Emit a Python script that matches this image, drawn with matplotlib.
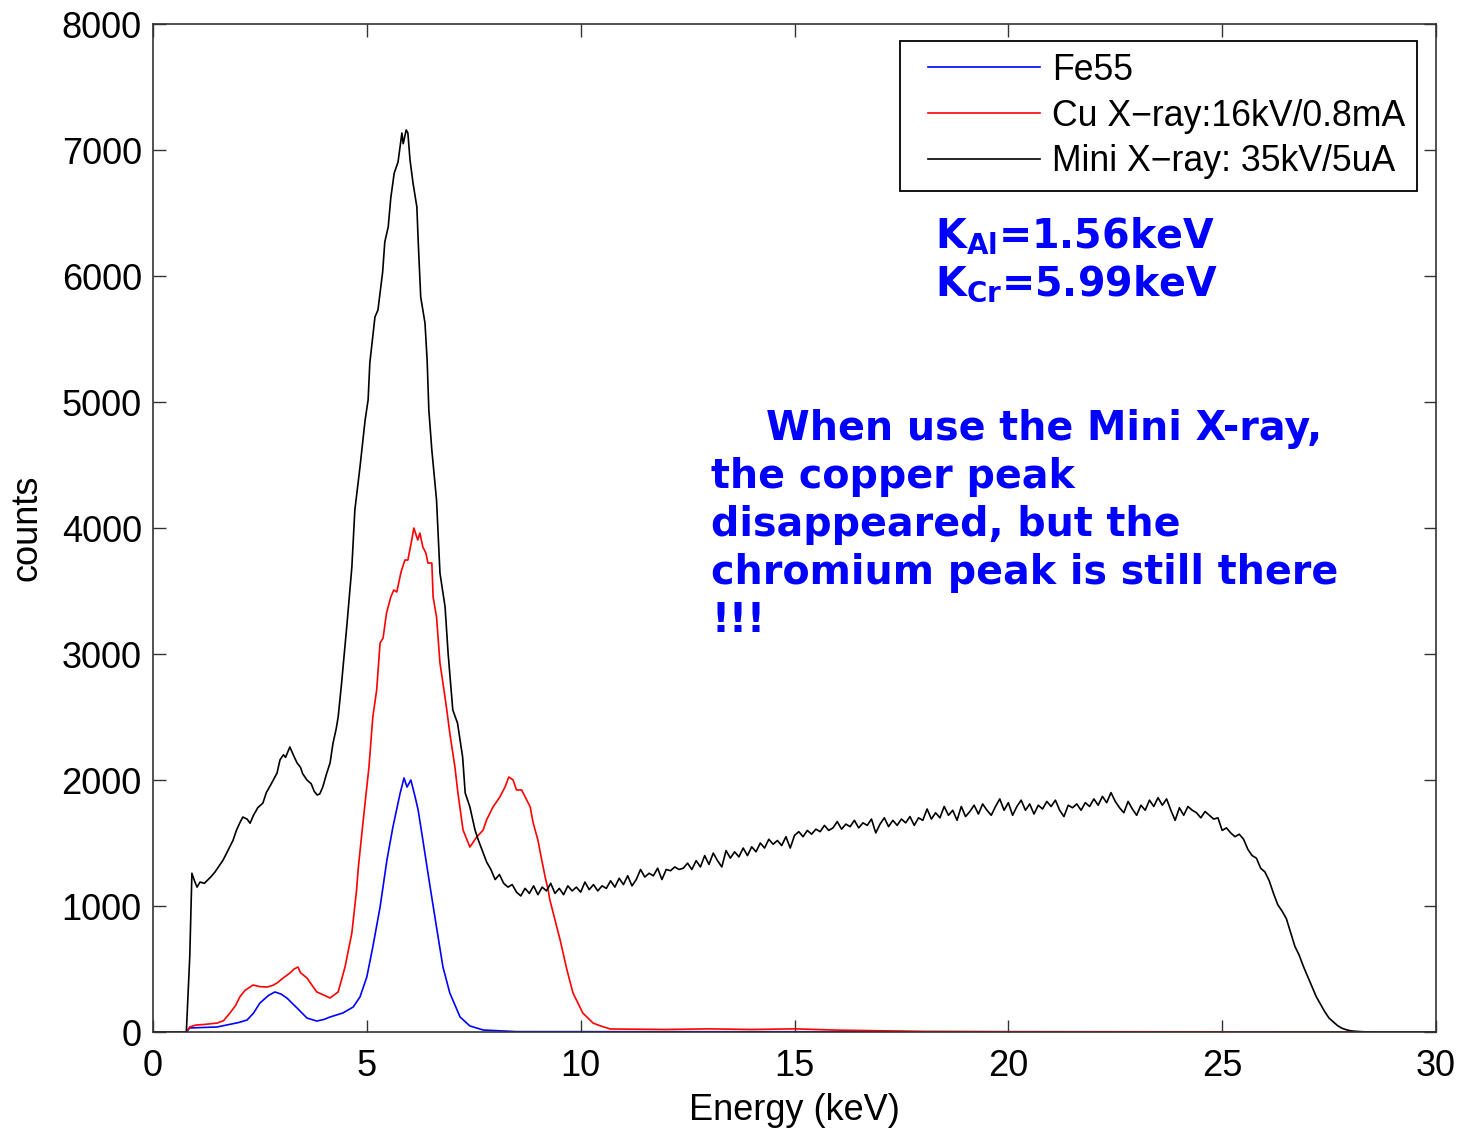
import matplotlib
matplotlib.use("Agg")
import matplotlib.pyplot as plt
import numpy as np
from matplotlib.legend_handler import HandlerLine2D
from matplotlib.lines import Line2D

# Fe55 spectrum (keV, counts)
fe_energy = [0, 0.78, 0.86, 1.5, 1.73, 2.0, 2.2, 2.35, 2.5, 2.7, 2.85, 3.0, 3.13, 3.37,
             3.6, 3.83, 4.0, 4.14, 4.44, 4.68, 4.84, 5.0, 5.14, 5.31, 5.47, 5.61, 5.78,
             5.87, 5.94, 6.03, 6.13, 6.2, 6.31, 6.48, 6.64, 6.78, 6.94, 7.18, 7.41, 7.72,
             8.5, 30]
fe_counts = [0, 0, 32, 40, 56, 75, 95, 150, 230, 290, 318, 300, 270, 190,
             111, 87, 100, 119, 151, 198, 278, 437, 675, 992, 1365, 1627, 1897,
             2016, 1944, 2000, 1865, 1762, 1524, 1151, 810, 516, 310, 119, 48, 16,
             3, 0]

# Cu X-ray tube 16kV/0.8mA
cu_energy = [0, 0.78, 0.86, 1.0, 1.2, 1.5, 1.65, 1.8, 1.93, 2.03, 2.15, 2.34, 2.5, 2.67,
             2.8, 2.9, 3.05, 3.2, 3.3, 3.39, 3.45, 3.6, 3.7, 3.83, 3.95, 4.14, 4.33,
             4.49, 4.65, 4.76, 4.80, 4.90, 5.05, 5.14, 5.23, 5.31, 5.38, 5.46, 5.56,
             5.63, 5.70, 5.80, 5.89, 5.96, 6.05, 6.10, 6.19, 6.24, 6.31, 6.38, 6.43,
             6.52, 6.55, 6.63, 6.71, 6.78, 6.87, 6.94, 7.06, 7.13, 7.25, 7.41, 7.57,
             7.72, 7.80, 7.95, 8.11, 8.23, 8.32, 8.42, 8.50, 8.62, 8.74, 8.82, 8.89,
             9.00, 9.09, 9.17, 9.24, 9.28, 9.52, 9.68, 9.82, 10.05, 10.29, 10.45, 10.69,
             12, 13, 14, 15, 16, 17, 18, 20, 30]
cu_counts = [0, 0, 40, 55, 60, 71, 90, 151, 210, 278, 330, 373, 360, 357,
             370, 389, 430, 468, 500, 516, 470, 429, 380, 318, 300, 270, 318,
             516, 786, 1127, 1300, 1630, 2103, 2500, 2714, 3087, 3127, 3325, 3452,
             3508, 3492, 3651, 3746, 3746, 3905, 4000, 3905, 3960, 3849, 3802, 3722,
             3722, 3452, 3294, 2929, 2770, 2556, 2373, 2103, 1897, 1603, 1468, 1548,
             1603, 1683, 1786, 1865, 1944, 2024, 2000, 1921, 1921, 1841, 1786, 1659,
             1524, 1365, 1230, 1127, 1048, 730, 492, 310, 151, 71, 50, 24,
             20, 25, 20, 25, 15, 10, 5, 3, 0]

# Mini X-ray 35kV/5uA, low-energy part
mini_energy_low = [0, 0.78, 0.86, 0.91, 0.97, 1.03, 1.1, 1.2, 1.29, 1.35, 1.45, 1.55, 1.64,
                   1.75, 1.87, 1.95, 2.03, 2.1, 2.2, 2.27, 2.35, 2.45, 2.57, 2.65, 2.75,
                   2.9, 2.97, 3.05, 3.1, 3.2, 3.28, 3.37, 3.45, 3.5, 3.6, 3.7, 3.77, 3.84,
                   3.9, 3.97, 4.05, 4.14, 4.21, 4.28, 4.33, 4.41, 4.53, 4.65, 4.72, 4.84,
                   4.96, 5.03, 5.07, 5.19, 5.26, 5.37, 5.42, 5.50, 5.56, 5.64, 5.73, 5.82,
                   5.85, 5.92, 5.96, 6.01, 6.08, 6.17, 6.20, 6.26, 6.36, 6.41, 6.45, 6.52,
                   6.63, 6.71, 6.83, 6.90, 7.01, 7.12, 7.24, 7.30, 7.41, 7.53]
mini_counts_low = [0, 0, 600, 1260, 1200, 1150, 1190, 1180, 1210, 1230, 1270, 1320, 1365,
                   1440, 1520, 1600, 1660, 1706, 1690, 1657, 1720, 1780, 1817, 1900, 1960,
                   2055, 2160, 2200, 2180, 2262, 2200, 2135, 2100, 2050, 2000, 1970, 1910, 1881,
                   1890, 1944, 2040, 2135, 2294, 2400, 2500, 2770, 3214, 3690, 4143, 4484,
                   4857, 5016, 5310, 5675, 5730, 6032, 6270, 6389, 6619, 6817, 6905, 7135,
                   7050, 7159, 7135, 6921, 6738, 6548, 6286, 5833, 5627, 5333, 4937, 4619,
                   4222, 3643, 3373, 3008, 2556, 2452, 2183, 1897, 1786, 1603]

# Mini X-ray, 7.6 - 28.5 keV in 0.1 keV channels
mini_counts_high = [
    1530, 1440, 1350, 1290, 1210, 1250, 1180, 1150, 1170, 1110,
    1080, 1140, 1100, 1160, 1090, 1150, 1120, 1180, 1100, 1140,
    1090, 1160, 1120, 1150, 1110, 1190, 1130, 1170, 1120, 1160,
    1140, 1200, 1150, 1220, 1170, 1240, 1160, 1210, 1290, 1230,
    1260, 1240, 1300, 1210, 1290, 1280, 1310, 1290, 1300, 1340,
    1290, 1360, 1310, 1400, 1330, 1420, 1360, 1310, 1440, 1380,
    1430, 1390, 1460, 1400, 1470, 1430, 1500, 1460, 1530, 1490,
    1520, 1480, 1550, 1460, 1560, 1590, 1550, 1600, 1570, 1610,
    1590, 1640, 1600, 1620, 1670, 1610, 1650, 1630, 1680, 1620,
    1660, 1640, 1690, 1580, 1650, 1700, 1630, 1680, 1640, 1690,
    1660, 1710, 1640, 1700, 1680, 1770, 1690, 1740, 1700, 1790,
    1720, 1760, 1680, 1790, 1710, 1750, 1800, 1730, 1810, 1760,
    1720, 1790, 1850, 1760, 1820, 1720, 1790, 1840, 1760, 1810,
    1730, 1800, 1770, 1830, 1790, 1840, 1760, 1710, 1800, 1780,
    1810, 1760, 1820, 1790, 1850, 1800, 1870, 1820, 1900, 1830,
    1780, 1740, 1830, 1770, 1720, 1800, 1760, 1840, 1790, 1860,
    1800, 1850, 1760, 1680, 1780, 1720, 1790, 1760, 1740, 1700,
    1750, 1720, 1690, 1700, 1600, 1620, 1580, 1550, 1570, 1530,
    1450, 1400, 1380, 1300, 1270, 1200, 1100, 1010, 960, 900,
    790, 680, 610, 520, 440, 360, 280, 220, 160, 110,
    80, 50, 30, 18, 10, 6, 4, 2, 1, 0]
mini_energy_high = np.round(7.6 + 0.1 * np.arange(len(mini_counts_high)), 2)

mini_energy = list(mini_energy_low) + list(mini_energy_high) + [30]
mini_counts = list(mini_counts_low) + list(mini_counts_high) + [0]

legend_labels = ["Fe55", "Cu X\u2212ray:16kV/0.8mA", "Mini X\u2212ray: 35kV/5uA"]
note_lines = ["    When use the Mini X-ray,",
              "the copper peak",
              "disappeared, but the",
              "chromium peak is still there",
              "!!!"]


class PaddedLine(HandlerLine2D):
    # legend line starts a bit right of the box edge, like matlab
    def create_artists(self, legend, orig_handle, xdescent, ydescent, width, height, fontsize, trans):
        arts = super().create_artists(legend, orig_handle, xdescent, ydescent, width, height, fontsize, trans)
        for a in arts:
            x = np.asarray(a.get_xdata(), dtype=float)
            if isinstance(a, Line2D) and len(x) >= 2:
                x0 = x[0] + 0.13 * (x[-1] - x[0])
                a.set_xdata(np.linspace(x0, x[-1], len(x)))
        return arts


plt.rcParams['font.family'] = ['Liberation Sans', 'DejaVu Sans']
plt.rcParams['mathtext.fontset'] = 'dejavusans'

fig = plt.figure(figsize=(14.57, 11.28), dpi=100)
ax = fig.add_axes([0.105, 0.0851, 0.8806, 0.8936])

l1, = ax.plot(fe_energy, fe_counts, color='#0000ff', lw=1.2)
l2, = ax.plot(cu_energy, cu_counts, color='#ff0000', lw=1.2)
l3, = ax.plot(mini_energy, mini_counts, color='black', lw=1.2)

ax.set_xlim(0, 30)
ax.set_ylim(0, 8000)
ax.set_xticks(range(0, 31, 5))
ax.set_yticks(range(0, 8001, 1000))
ax.tick_params(direction='in', length=9, width=1, top=True, right=True,
               labelsize=26, pad=8, color='#333333')
ax.tick_params(axis='x', pad=12)
for s in ax.spines.values():
    s.set_linewidth(1.2)
    s.set_color('#333333')

ax.set_xlabel("Energy (keV)", fontsize=26, labelpad=7)
ax.set_ylabel("counts", fontsize=26, labelpad=12)

leg = ax.legend([l1, l2, l3], legend_labels, loc='upper right',
                bbox_to_anchor=(0.985, 0.983), borderaxespad=0, fontsize=25.7,
                fancybox=False, edgecolor='black', framealpha=1,
                handlelength=3.6, handletextpad=0.33, labelspacing=0.3,
                borderpad=0.33, handler_map={Line2D: PaddedLine()})
leg.get_frame().set_linewidth(1.3)

blue = '#0000ff'
ax.text(18.28, 6222, r'K$_{\mathbf{Al}}$=1.56keV', color=blue, fontsize=28.5,
        fontweight='bold', family='DejaVu Sans', va='baseline')
ax.text(18.28, 5849, r'K$_{\mathbf{Cr}}$=5.99keV', color=blue, fontsize=28.5,
        fontweight='bold', family='DejaVu Sans', va='baseline')

for i, line in enumerate(note_lines):
    ax.text(13.05, 4700 - i * 381, line, color=blue, fontsize=28.5,
            fontweight='bold', family='DejaVu Sans', va='baseline')

fig.savefig("out.png", dpi=100)
